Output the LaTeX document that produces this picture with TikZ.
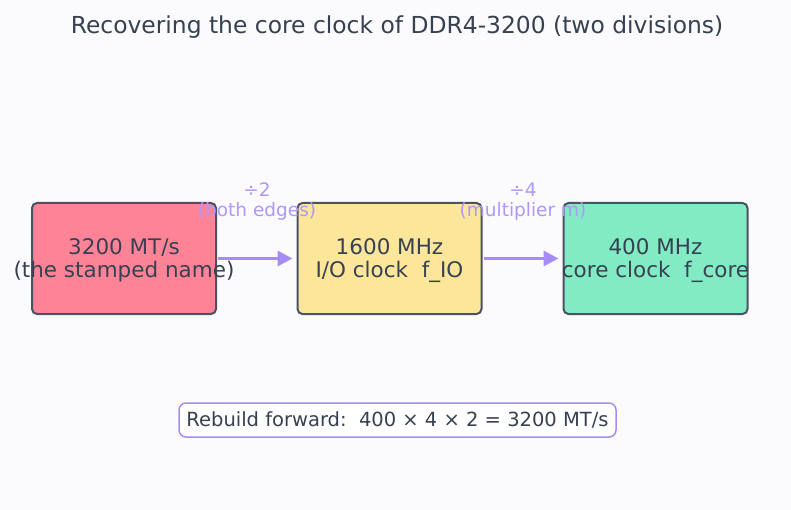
\documentclass[tikz,border=0pt]{standalone}
\usepackage{fontspec}
\setmainfont{DejaVu Sans}
\usetikzlibrary{arrows.meta}
\definecolor{bgcol}{HTML}{FBFBFE}
\definecolor{ink}{HTML}{374151}
\definecolor{edge}{HTML}{4B5263}
\definecolor{violet}{HTML}{A78BFA}
\definecolor{rosefill}{HTML}{FF8397}
\definecolor{sandfill}{HTML}{FCE69A}
\definecolor{mintfill}{HTML}{82EBC3}

\begin{document}
\begin{tikzpicture}[x=1pt, y=-1pt,
  stage/.style={draw=edge, line width=2pt, rounded corners=5pt, minimum width=184pt, minimum height=111pt, inner sep=0pt},
  stagetext/.style={text=ink, align=center, font=\fontsize{21.5}{23}\selectfont, inner sep=0pt},
  divlabel/.style={text=violet!90, align=center, font=\fontsize{18.5}{20}\selectfont, inner sep=0pt},
  flow/.style={draw=violet, line width=3pt, -{Triangle[length=15pt, width=15pt]}, shorten >=4pt, shorten <=1pt}]
\fill[bgcol] (0,0) rectangle (791,510);
\useasboundingbox (0,0) rectangle (791,510);
% Title
\node[text=ink, font=\fontsize{23.4}{27}\selectfont] (title) at (397,27) {Recovering the core clock of DDR4-3200 (two divisions)};
% Stages
\node[stage, fill=rosefill] (rate) at (124,258.5) {};
\node[stage, fill=sandfill] (io) at (389.5,258.5) {};
\node[stage, fill=mintfill] (core) at (655.5,258.5) {};
\node[stagetext] (ratetext) at (124,260.5) {3200 MT/s\\(the stamped name)};
\node[stagetext] (iotext) at (389.5,260.5) {1600 MHz\\I/O clock\ \ f\_IO};
\node[stagetext] (coretext) at (655.5,260.5) {400 MHz\\core clock\ \ f\_core};
% Divisions
\draw[flow] (rate) -- (io);
\draw[flow] (io) -- (core);
\node[divlabel] (div2) at (257,202) {÷2\\(both edges)};
\node[divlabel] (div4) at (523,202) {÷4\\(multiplier m)};
% Check
\node[draw=violet, line width=1.5pt, fill=white, rounded corners=7pt, text=ink, font=\fontsize{19.5}{22}\selectfont, minimum width=437pt, minimum height=34pt, inner sep=0pt] (rebuild) at (397.5,420) {Rebuild forward:\ \ 400 × 4 × 2 = 3200 MT/s};
\end{tikzpicture}
\end{document}
